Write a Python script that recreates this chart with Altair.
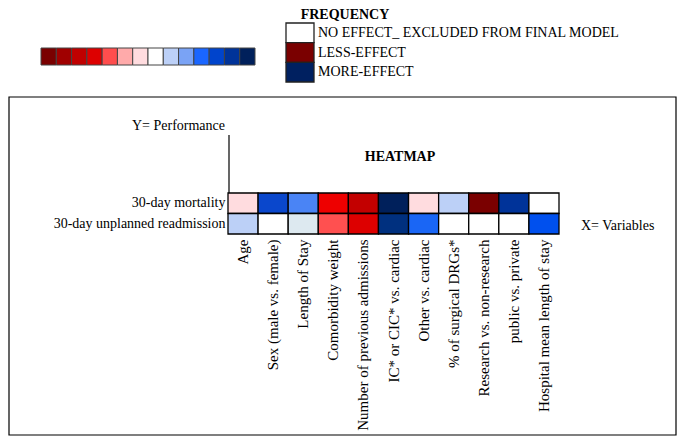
import altair as alt
import pandas as pd

# ---- data ----
variables = [
    "Age", "Sex (male vs. female)", "Length of Stay", "Comorbidity weight",
    "Number of previous admissions", "IC* or CIC* vs. cardiac", "Other vs. cardiac",
    "% of surgical DRGs*", "Research vs. non-research", "public vs. private",
    "Hospital mean length of stay",
]
outcomes = ["30-day mortality", "30-day unplanned readmission"]
mortality_colors = ["#ffdcdf", "#0a47cc", "#4a84f5", "#ee0000", "#c30000", "#00205b",
                    "#ffdcdf", "#bcd0f7", "#7a0000", "#003399", "#ffffff"]
readmission_colors = ["#bcd0f7", "#ffffff", "#dde9f0", "#ff5050", "#dd0000", "#00307f",
                      "#1a66f5", "#ffffff", "#ffffff", "#ffffff", "#0050ee"]
scale_colors = ["#7a0000", "#a00000", "#c00000", "#dd0000", "#ff4d4d", "#ffaaaa", "#ffdcdf",
                "#ffffff", "#bcd0f7", "#7aa3f5", "#1a66ff", "#0044cc", "#003399", "#00205b"]
legend_labels = ["NO EFFECT_ EXCLUDED FROM FINAL MODEL", "LESS-EFFECT", "MORE-EFFECT"]
legend_colors = ["#ffffff", "#7a0000", "#002060"]

FONT = "Liberation Serif"

cells = pd.DataFrame(
    [{"variable": v, "outcome": outcomes[0], "color": c} for v, c in zip(variables, mortality_colors)]
    + [{"variable": v, "outcome": outcomes[1], "color": c} for v, c in zip(variables, readmission_colors)]
)
strip = pd.DataFrame({"idx": list(range(len(scale_colors))), "color": scale_colors})
legend = pd.DataFrame({"label": legend_labels, "color": legend_colors, "order": [0, 1, 2]})

W, H = 331, 41
PL, PT = 220, 185

heat = alt.Chart(cells).mark_rect(stroke="black", strokeWidth=1.3).encode(
    x=alt.X("variable:N", sort=variables, title=None,
            scale=alt.Scale(paddingInner=0, paddingOuter=0),
            axis=alt.Axis(labelAngle=-90, labelFont=FONT, labelFontSize=15, labelColor="black",
                          ticks=False, domain=False, labelPadding=5, labelLimit=300)),
    y=alt.Y("outcome:N", sort=outcomes, title=None,
            scale=alt.Scale(paddingInner=0, paddingOuter=0),
            axis=alt.Axis(labelFont=FONT, labelFontSize=14, labelColor="black",
                          ticks=False, domain=False, labelPadding=3, labelLimit=300)),
    color=alt.Color("color:N", scale=None),
)

box = alt.Chart(pd.DataFrame({"a": [0]})).mark_rect(
    fill=None, stroke="black", strokeWidth=1.2
).encode(x=alt.value(-219), x2=alt.value(448), y=alt.value(-96), y2=alt.value(242))

yline = alt.Chart(pd.DataFrame({"a": [0]})).mark_rule(color="black", strokeWidth=1.2).encode(
    x=alt.value(1), y=alt.value(-58), y2=alt.value(0))


def txt(t, x, y, align="left", bold=False, baseline="middle"):
    return alt.Chart(pd.DataFrame({"t": [t]})).mark_text(
        font=FONT, fontSize=14, color="black", align=align, baseline=baseline,
        fontWeight="bold" if bold else "normal"
    ).encode(text="t:N", x=alt.value(x), y=alt.value(y))


texts = [
    txt("FREQUENCY", 345 - 228, -185, align="center", bold=True, baseline="top"),
    txt("Y= Performance", 225 - 228, 126 - 193, align="right"),
    txt("HEATMAP", 400 - 228, 157 - 193, align="center", bold=True),
    txt("X= Variables", 581 - 228, 226 - 193, align="left"),
]

strip_layer = alt.Chart(strip).mark_rect(stroke="#444", strokeWidth=1).encode(
    x=alt.X("idx:O", scale=alt.Scale(range=[41 - 228, 255 - 228], paddingInner=0, paddingOuter=0), axis=None),
    y=alt.value(48 - 193), y2=alt.value(65 - 193),
    color=alt.Color("color:N", scale=None),
)

leg_y = alt.Y("order:O", scale=alt.Scale(range=[23 - 193, 82 - 193], paddingInner=0, paddingOuter=0), axis=None)
leg_boxes = alt.Chart(legend).mark_rect(stroke="#222", strokeWidth=1.3).encode(
    y=leg_y, x=alt.value(286 - 228), x2=alt.value(314 - 228),
    color=alt.Color("color:N", scale=None),
)
leg_text = alt.Chart(legend).mark_text(
    font=FONT, fontSize=14, color="black", align="left", baseline="middle"
).encode(
    y=alt.Y("order:O", scale=alt.Scale(range=[23 - 193, 82 - 193], paddingInner=0, paddingOuter=0),
            axis=None, bandPosition=0.5),
    x=alt.value(318 - 228), text="label:N",
)

chart = alt.layer(box, yline, heat, *texts, strip_layer, leg_boxes, leg_text).resolve_scale(
    x="independent", y="independent"
).properties(
    width=W, height=H,
    autosize=alt.AutoSizeParams(type="none"),
    padding={"left": PL, "top": PT, "right": 669 - PL - W, "bottom": 428 - PT - H},
    background="white",
).configure_view(stroke=None)

chart.save("out.html", embed_options={"renderer": "svg", "actions": False})
